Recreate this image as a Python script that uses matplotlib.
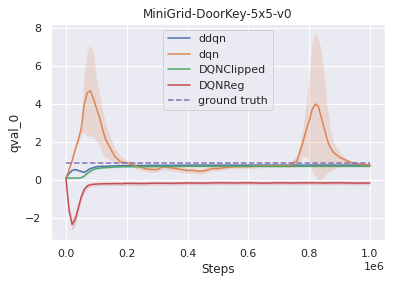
import numpy as np
import matplotlib
matplotlib.use("Agg")
import matplotlib.pyplot as plt
import seaborn as sns

sns.set_theme(style="darkgrid", context="notebook")

# steps in units of 1e6
steps_dqn = [0, 0.01, 0.02, 0.03, 0.04, 0.05, 0.06, 0.07, 0.08, 0.09, 0.10, 0.11, 0.12, 0.13, 0.14,
             0.16, 0.18, 0.20, 0.22, 0.24, 0.26, 0.28, 0.30, 0.32, 0.34, 0.36, 0.38, 0.40, 0.42, 0.44,
             0.46, 0.48, 0.50,
             0.55, 0.60, 0.65, 0.70, 0.72,
             0.74, 0.76, 0.77, 0.78, 0.79, 0.80, 0.81, 0.82, 0.83, 0.84, 0.85, 0.86, 0.87, 0.88,
             0.90, 0.92, 0.94, 0.96, 0.98, 1.00]
dqn = [0.1, 0.55, 1.0, 1.6, 2.1, 2.7, 4.0, 4.6, 4.7, 4.3, 3.8, 3.3, 2.7, 2.15, 1.85,
       1.25, 0.95, 0.9, 0.8, 0.7, 0.6, 0.55, 0.55, 0.7, 0.65, 0.6, 0.55, 0.5, 0.5, 0.45,
       0.5, 0.6, 0.6,
       0.7, 0.7, 0.75, 0.75, 0.75,
       0.8, 1.0, 1.5, 2.0, 2.6, 3.1, 3.7, 4.0, 3.9, 3.3, 2.7, 2.1, 1.7, 1.45,
       1.2, 1.05, 0.9, 0.85, 0.8, 0.8]
dqn_hi = [0.12, 0.6, 1.1, 1.7, 2.3, 3.0, 5.6, 6.8, 7.15, 6.7, 5.4, 4.5, 3.7, 3.0, 2.5,
          1.7, 1.25, 1.05, 0.95, 0.85, 0.75, 0.7, 0.7, 0.85, 0.8, 0.75, 0.7, 0.65, 0.65, 0.6,
          0.65, 0.72, 0.72,
          0.8, 0.8, 0.85, 0.85, 0.85,
          0.95, 1.3, 2.0, 2.8, 4.0, 5.5, 7.3, 7.7, 7.5, 6.8, 5.5, 3.8, 2.6, 2.0,
          1.5, 1.15, 1.0, 0.95, 0.9, 0.9]
dqn_lo = [0.08, 0.5, 0.9, 1.5, 1.9, 2.4, 2.5, 2.3, 2.3, 2.3, 2.0, 1.8, 1.4, 1.2, 1.1,
          0.9, 0.75, 0.75, 0.65, 0.55, 0.45, 0.4, 0.4, 0.55, 0.5, 0.45, 0.4, 0.35, 0.35, 0.3,
          0.35, 0.48, 0.48,
          0.6, 0.6, 0.65, 0.65, 0.65,
          0.65, 0.7, 1.0, 1.2, 1.25, 1.0, 0.5, 0.2, 0.0, 0.0, 0.2, 0.35, 0.45, 0.55,
          0.7, 0.75, 0.75, 0.75, 0.7, 0.7]

steps_other = [0, 0.01, 0.02, 0.03, 0.04, 0.05, 0.06, 0.07, 0.08, 0.09, 0.10, 0.11, 0.12, 0.13, 0.14,
               0.16, 0.18, 0.20, 0.25, 0.30, 0.35, 0.40, 0.45, 0.50, 0.55, 0.60, 0.65, 0.70, 0.75,
               0.80, 0.85, 0.90, 0.95, 1.00]
ddqn = [0.1, 0.35, 0.5, 0.55, 0.5, 0.45, 0.4, 0.5, 0.6, 0.65, 0.7, 0.71, 0.72, 0.72, 0.73,
        0.74, 0.75, 0.75, 0.76, 0.77, 0.77, 0.78, 0.78, 0.78, 0.78, 0.78, 0.78, 0.78, 0.78,
        0.78, 0.78, 0.78, 0.78, 0.78]
clipped = [0.1, 0.1, 0.1, 0.1, 0.1, 0.12, 0.2, 0.35, 0.45, 0.55, 0.6, 0.62, 0.64, 0.65, 0.66,
           0.68, 0.69, 0.7, 0.7, 0.71, 0.71, 0.72, 0.72, 0.72, 0.72, 0.72, 0.72, 0.72, 0.72,
           0.72, 0.72, 0.72, 0.72, 0.72]
reg = [0.05, -1.6, -2.35, -2.1, -1.5, -0.9, -0.5, -0.32, -0.25, -0.23, -0.22, -0.21, -0.2, -0.2, -0.2,
       -0.19, -0.2, -0.18, -0.19, -0.17, -0.18, -0.16, -0.17, -0.15, -0.16, -0.15, -0.17, -0.15, -0.16,
       -0.15, -0.16, -0.15, -0.17, -0.16]
reg_std = [0.05, 0.25, 0.3, 0.3, 0.25, 0.2, 0.15, 0.12, 0.1, 0.1, 0.1, 0.1, 0.1, 0.1, 0.1,
           0.1, 0.1, 0.1, 0.1, 0.1, 0.1, 0.1, 0.1, 0.1, 0.1, 0.1, 0.1, 0.1, 0.1,
           0.1, 0.1, 0.1, 0.1, 0.1]
small_std = 0.04
ground_truth = 0.9

xd = np.array(steps_dqn) * 1e6
xo = np.array(steps_other) * 1e6

fig = plt.figure(figsize=(397 / 72, 284 / 72), dpi=72)
ax = fig.add_subplot(111)
fig.subplots_adjust(left=0.128, right=0.97, top=0.915, bottom=0.155)

ax.plot(xo, ddqn, color="C0", label="ddqn")
ax.fill_between(xo, np.array(ddqn) - small_std, np.array(ddqn) + small_std, color="C0", alpha=0.2, lw=0)

ax.plot(xd, dqn, color="C1", label="dqn")
ax.fill_between(xd, dqn_lo, dqn_hi, color="C1", alpha=0.2, lw=0)

ax.plot(xo, clipped, color="C2", label="DQNClipped")
ax.fill_between(xo, np.array(clipped) - small_std, np.array(clipped) + small_std, color="C2", alpha=0.2, lw=0)

ax.plot(xo, reg, color="C3", label="DQNReg")
ax.fill_between(xo, np.array(reg) - np.array(reg_std), np.array(reg) + np.array(reg_std),
                color="C3", alpha=0.2, lw=0)

ax.plot([xo[0], xo[-1]], [ground_truth, ground_truth], "--", color="C4", label="ground truth")

ax.set_title("MiniGrid-DoorKey-5x5-v0")
ax.set_xlabel("Steps")
ax.set_ylabel("qval_0")
ax.legend(loc="upper center")

fig.savefig("out.png", dpi=72)
